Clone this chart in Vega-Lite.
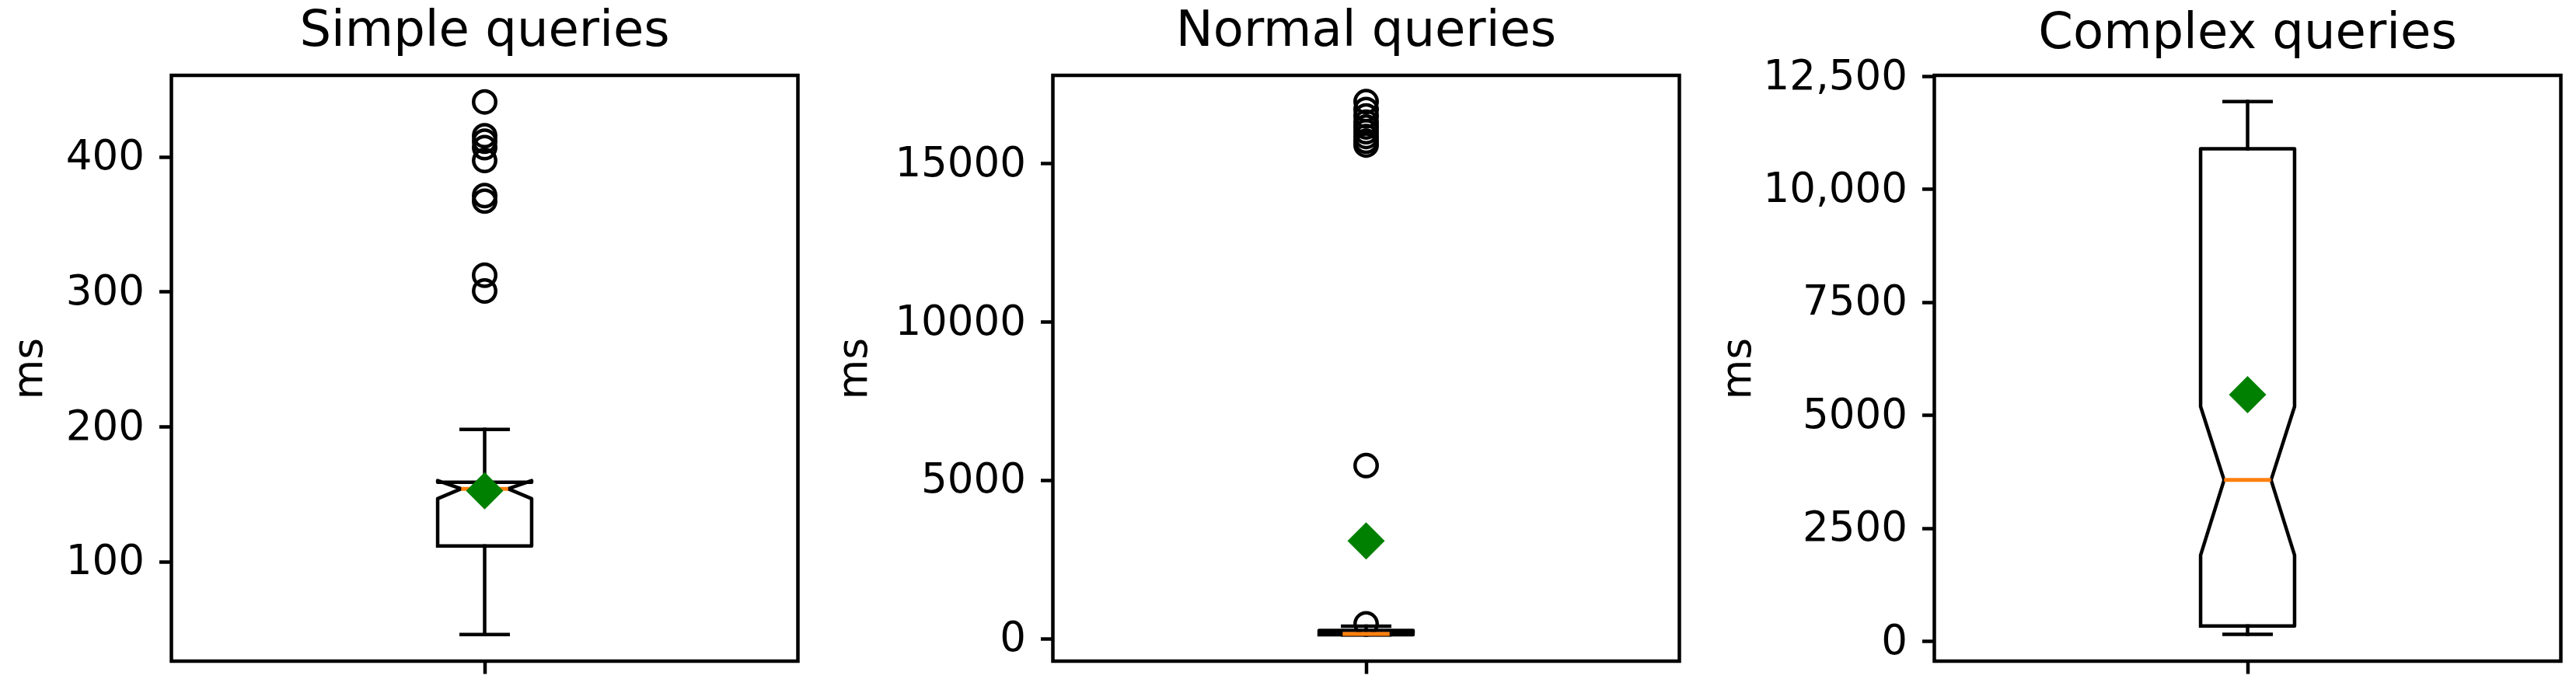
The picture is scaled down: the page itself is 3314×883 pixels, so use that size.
{
  "$schema": "https://vega.github.io/schema/vega-lite/v6.json",
  "background": "white",
  "padding": {"left": 8.5, "top": 5, "right": 0, "bottom": 0},
  "spacing": 328,
  "bounds": "flush",
  "datasets": {
    "stats": [
      {"panel": "Simple", "whislo": 45.9, "q1": 111.5, "med": 153.9, "q3": 158.7, "whishi": 197.9, "mean": 152.4},
      {"panel": "Normal", "whislo": 110, "q1": 118, "med": 145, "q3": 253, "whishi": 388, "mean": 3083},
      {"panel": "Complex", "whislo": 145, "q1": 329, "med": 3563, "q3": 10893, "whishi": 11939, "mean": 5451}
    ],
    "outline": [
      {"panel": "Simple", "i": 0, "vx": 0.925, "vy": 111.5},
      {"panel": "Simple", "i": 1, "vx": 1.075, "vy": 111.5},
      {"panel": "Simple", "i": 2, "vx": 1.075, "vy": 146.6},
      {"panel": "Simple", "i": 3, "vx": 1.0375, "vy": 153.9},
      {"panel": "Simple", "i": 4, "vx": 1.075, "vy": 160.0},
      {"panel": "Simple", "i": 5, "vx": 1.075, "vy": 158.7},
      {"panel": "Simple", "i": 6, "vx": 0.925, "vy": 158.7},
      {"panel": "Simple", "i": 7, "vx": 0.925, "vy": 160.0},
      {"panel": "Simple", "i": 8, "vx": 0.9625, "vy": 153.9},
      {"panel": "Simple", "i": 9, "vx": 0.925, "vy": 146.6},
      {"panel": "Simple", "i": 10, "vx": 0.925, "vy": 111.5},
      {"panel": "Normal", "i": 0, "vx": 0.925, "vy": 118},
      {"panel": "Normal", "i": 1, "vx": 1.075, "vy": 118},
      {"panel": "Normal", "i": 2, "vx": 1.075, "vy": 125},
      {"panel": "Normal", "i": 3, "vx": 1.0375, "vy": 145},
      {"panel": "Normal", "i": 4, "vx": 1.075, "vy": 165},
      {"panel": "Normal", "i": 5, "vx": 1.075, "vy": 253},
      {"panel": "Normal", "i": 6, "vx": 0.925, "vy": 253},
      {"panel": "Normal", "i": 7, "vx": 0.925, "vy": 165},
      {"panel": "Normal", "i": 8, "vx": 0.9625, "vy": 145},
      {"panel": "Normal", "i": 9, "vx": 0.925, "vy": 125},
      {"panel": "Normal", "i": 10, "vx": 0.925, "vy": 118},
      {"panel": "Complex", "i": 0, "vx": 0.925, "vy": 329},
      {"panel": "Complex", "i": 1, "vx": 1.075, "vy": 329},
      {"panel": "Complex", "i": 2, "vx": 1.075, "vy": 1898},
      {"panel": "Complex", "i": 3, "vx": 1.0375, "vy": 3563},
      {"panel": "Complex", "i": 4, "vx": 1.075, "vy": 5190},
      {"panel": "Complex", "i": 5, "vx": 1.075, "vy": 10893},
      {"panel": "Complex", "i": 6, "vx": 0.925, "vy": 10893},
      {"panel": "Complex", "i": 7, "vx": 0.925, "vy": 5190},
      {"panel": "Complex", "i": 8, "vx": 0.9625, "vy": 3563},
      {"panel": "Complex", "i": 9, "vx": 0.925, "vy": 1898},
      {"panel": "Complex", "i": 10, "vx": 0.925, "vy": 329}
    ],
    "fliers": [
      {"panel": "Simple", "value": 440.6},
      {"panel": "Simple", "value": 415.6},
      {"panel": "Simple", "value": 411.5},
      {"panel": "Simple", "value": 406.7},
      {"panel": "Simple", "value": 397.2},
      {"panel": "Simple", "value": 371.2},
      {"panel": "Simple", "value": 367.1},
      {"panel": "Simple", "value": 312.2},
      {"panel": "Simple", "value": 300.5},
      {"panel": "Normal", "value": 460},
      {"panel": "Normal", "value": 5458},
      {"panel": "Normal", "value": 15580},
      {"panel": "Normal", "value": 15700},
      {"panel": "Normal", "value": 15850},
      {"panel": "Normal", "value": 16000},
      {"panel": "Normal", "value": 16150},
      {"panel": "Normal", "value": 16300},
      {"panel": "Normal", "value": 16500},
      {"panel": "Normal", "value": 16700},
      {"panel": "Normal", "value": 16950}
    ]
  },
  "hconcat": [
    {
      "width": 806, "height": 754,
      "title": {"text": "Simple queries", "offset": 25},
      "layer": [
        {"data": {"name": "stats"}, "transform": [{"filter": "datum.panel === 'Simple'"}],
         "mark": {"type": "rule", "color": "black", "strokeWidth": 4.5, "strokeCap": "square"},
         "encoding": {
           "x": {"datum": 1, "type": "quantitative", "scale": {"domain": [0.5, 1.5]}, "axis": {"values": [1], "labels": false, "title": null}},
           "y": {"field": "q1", "type": "quantitative", "scale": {"domain": [26.2, 460.3], "zero": false, "nice": false}, "axis": {"title": "ms", "values": [100, 200, 300, 400], "format": "d", "titleX": -167}},
           "y2": {"field": "whislo"}}},
        {"data": {"name": "stats"}, "transform": [{"filter": "datum.panel === 'Simple'"}],
         "mark": {"type": "rule", "color": "black", "strokeWidth": 4.5, "strokeCap": "square"},
         "encoding": {
           "x": {"datum": 1, "type": "quantitative", "scale": {"domain": [0.5, 1.5]}, "axis": {"values": [1], "labels": false, "title": null}},
           "y": {"field": "q3", "type": "quantitative", "scale": {"domain": [26.2, 460.3], "zero": false, "nice": false}, "axis": {"title": "ms", "values": [100, 200, 300, 400], "format": "d", "titleX": -167}},
           "y2": {"field": "whishi"}}},
        {"data": {"name": "stats"}, "transform": [{"filter": "datum.panel === 'Simple'"}],
         "mark": {"type": "rule", "color": "black", "strokeWidth": 4.5, "strokeCap": "square"},
         "encoding": {
           "x": {"datum": 0.9625, "type": "quantitative", "scale": {"domain": [0.5, 1.5]}, "axis": {"values": [1], "labels": false, "title": null}},
           "x2": {"datum": 1.0375},
           "y": {"field": "whislo", "type": "quantitative", "scale": {"domain": [26.2, 460.3], "zero": false, "nice": false}, "axis": {"title": "ms", "values": [100, 200, 300, 400], "format": "d", "titleX": -167}}}},
        {"data": {"name": "stats"}, "transform": [{"filter": "datum.panel === 'Simple'"}],
         "mark": {"type": "rule", "color": "black", "strokeWidth": 4.5, "strokeCap": "square"},
         "encoding": {
           "x": {"datum": 0.9625, "type": "quantitative", "scale": {"domain": [0.5, 1.5]}, "axis": {"values": [1], "labels": false, "title": null}},
           "x2": {"datum": 1.0375},
           "y": {"field": "whishi", "type": "quantitative", "scale": {"domain": [26.2, 460.3], "zero": false, "nice": false}, "axis": {"title": "ms", "values": [100, 200, 300, 400], "format": "d", "titleX": -167}}}},
        {"data": {"name": "outline"}, "transform": [{"filter": "datum.panel === 'Simple'"}],
         "mark": {"type": "line", "color": "black", "strokeWidth": 4.5, "strokeJoin": "round", "strokeCap": "square"},
         "encoding": {
           "x": {"field": "vx", "type": "quantitative", "scale": {"domain": [0.5, 1.5]}, "axis": {"values": [1], "labels": false, "title": null}},
           "y": {"field": "vy", "type": "quantitative", "scale": {"domain": [26.2, 460.3], "zero": false, "nice": false}, "axis": {"title": "ms", "values": [100, 200, 300, 400], "format": "d", "titleX": -167}},
           "order": {"field": "i", "type": "quantitative"}}},
        {"data": {"name": "fliers"}, "transform": [{"filter": "datum.panel === 'Simple'"}],
         "mark": {"type": "point", "shape": "circle", "filled": false, "stroke": "black", "strokeWidth": 4.5, "size": 810, "opacity": 1},
         "encoding": {
           "x": {"datum": 1, "type": "quantitative", "scale": {"domain": [0.5, 1.5]}, "axis": {"values": [1], "labels": false, "title": null}},
           "y": {"field": "value", "type": "quantitative", "scale": {"domain": [26.2, 460.3], "zero": false, "nice": false}, "axis": {"title": "ms", "values": [100, 200, 300, 400], "format": "d", "titleX": -167}}}},
        {"data": {"name": "stats"}, "transform": [{"filter": "datum.panel === 'Simple'"}],
         "mark": {"type": "rule", "color": "#ff7f0e", "strokeWidth": 5},
         "encoding": {
           "x": {"datum": 0.9625, "type": "quantitative", "scale": {"domain": [0.5, 1.5]}, "axis": {"values": [1], "labels": false, "title": null}},
           "x2": {"datum": 1.0375},
           "y": {"field": "med", "type": "quantitative", "scale": {"domain": [26.2, 460.3], "zero": false, "nice": false}, "axis": {"title": "ms", "values": [100, 200, 300, 400], "format": "d", "titleX": -167}}}},
        {"data": {"name": "stats"}, "transform": [{"filter": "datum.panel === 'Simple'"}],
         "mark": {"type": "point", "shape": "diamond", "filled": true, "color": "#008000", "size": 2304, "opacity": 1, "strokeWidth": 0},
         "encoding": {
           "x": {"datum": 1, "type": "quantitative", "scale": {"domain": [0.5, 1.5]}, "axis": {"values": [1], "labels": false, "title": null}},
           "y": {"field": "mean", "type": "quantitative", "scale": {"domain": [26.2, 460.3], "zero": false, "nice": false}, "axis": {"title": "ms", "values": [100, 200, 300, 400], "format": "d", "titleX": -167}}}}
      ]
    },
    {
      "width": 806, "height": 754,
      "title": {"text": "Normal queries", "offset": 25},
      "layer": [
        {"data": {"name": "stats"}, "transform": [{"filter": "datum.panel === 'Normal'"}],
         "mark": {"type": "rule", "color": "black", "strokeWidth": 4.5, "strokeCap": "square"},
         "encoding": {
           "x": {"datum": 1, "type": "quantitative", "scale": {"domain": [0.5, 1.5]}, "axis": {"values": [1], "labels": false, "title": null}},
           "y": {"field": "q1", "type": "quantitative", "scale": {"domain": [-716, 17780], "zero": false, "nice": false}, "axis": {"title": "ms", "values": [0, 5000, 10000, 15000], "format": "d", "titleX": -240.5}},
           "y2": {"field": "whislo"}}},
        {"data": {"name": "stats"}, "transform": [{"filter": "datum.panel === 'Normal'"}],
         "mark": {"type": "rule", "color": "black", "strokeWidth": 4.5, "strokeCap": "square"},
         "encoding": {
           "x": {"datum": 1, "type": "quantitative", "scale": {"domain": [0.5, 1.5]}, "axis": {"values": [1], "labels": false, "title": null}},
           "y": {"field": "q3", "type": "quantitative", "scale": {"domain": [-716, 17780], "zero": false, "nice": false}, "axis": {"title": "ms", "values": [0, 5000, 10000, 15000], "format": "d", "titleX": -240.5}},
           "y2": {"field": "whishi"}}},
        {"data": {"name": "stats"}, "transform": [{"filter": "datum.panel === 'Normal'"}],
         "mark": {"type": "rule", "color": "black", "strokeWidth": 4.5, "strokeCap": "square"},
         "encoding": {
           "x": {"datum": 0.9625, "type": "quantitative", "scale": {"domain": [0.5, 1.5]}, "axis": {"values": [1], "labels": false, "title": null}},
           "x2": {"datum": 1.0375},
           "y": {"field": "whislo", "type": "quantitative", "scale": {"domain": [-716, 17780], "zero": false, "nice": false}, "axis": {"title": "ms", "values": [0, 5000, 10000, 15000], "format": "d", "titleX": -240.5}}}},
        {"data": {"name": "stats"}, "transform": [{"filter": "datum.panel === 'Normal'"}],
         "mark": {"type": "rule", "color": "black", "strokeWidth": 4.5, "strokeCap": "square"},
         "encoding": {
           "x": {"datum": 0.9625, "type": "quantitative", "scale": {"domain": [0.5, 1.5]}, "axis": {"values": [1], "labels": false, "title": null}},
           "x2": {"datum": 1.0375},
           "y": {"field": "whishi", "type": "quantitative", "scale": {"domain": [-716, 17780], "zero": false, "nice": false}, "axis": {"title": "ms", "values": [0, 5000, 10000, 15000], "format": "d", "titleX": -240.5}}}},
        {"data": {"name": "outline"}, "transform": [{"filter": "datum.panel === 'Normal'"}],
         "mark": {"type": "line", "color": "black", "strokeWidth": 4.5, "strokeJoin": "round", "strokeCap": "square"},
         "encoding": {
           "x": {"field": "vx", "type": "quantitative", "scale": {"domain": [0.5, 1.5]}, "axis": {"values": [1], "labels": false, "title": null}},
           "y": {"field": "vy", "type": "quantitative", "scale": {"domain": [-716, 17780], "zero": false, "nice": false}, "axis": {"title": "ms", "values": [0, 5000, 10000, 15000], "format": "d", "titleX": -240.5}},
           "order": {"field": "i", "type": "quantitative"}}},
        {"data": {"name": "fliers"}, "transform": [{"filter": "datum.panel === 'Normal'"}],
         "mark": {"type": "point", "shape": "circle", "filled": false, "stroke": "black", "strokeWidth": 4.5, "size": 810, "opacity": 1},
         "encoding": {
           "x": {"datum": 1, "type": "quantitative", "scale": {"domain": [0.5, 1.5]}, "axis": {"values": [1], "labels": false, "title": null}},
           "y": {"field": "value", "type": "quantitative", "scale": {"domain": [-716, 17780], "zero": false, "nice": false}, "axis": {"title": "ms", "values": [0, 5000, 10000, 15000], "format": "d", "titleX": -240.5}}}},
        {"data": {"name": "stats"}, "transform": [{"filter": "datum.panel === 'Normal'"}],
         "mark": {"type": "rule", "color": "#ff7f0e", "strokeWidth": 5},
         "encoding": {
           "x": {"datum": 0.9625, "type": "quantitative", "scale": {"domain": [0.5, 1.5]}, "axis": {"values": [1], "labels": false, "title": null}},
           "x2": {"datum": 1.0375},
           "y": {"field": "med", "type": "quantitative", "scale": {"domain": [-716, 17780], "zero": false, "nice": false}, "axis": {"title": "ms", "values": [0, 5000, 10000, 15000], "format": "d", "titleX": -240.5}}}},
        {"data": {"name": "stats"}, "transform": [{"filter": "datum.panel === 'Normal'"}],
         "mark": {"type": "point", "shape": "diamond", "filled": true, "color": "#008000", "size": 2304, "opacity": 1, "strokeWidth": 0},
         "encoding": {
           "x": {"datum": 1, "type": "quantitative", "scale": {"domain": [0.5, 1.5]}, "axis": {"values": [1], "labels": false, "title": null}},
           "y": {"field": "mean", "type": "quantitative", "scale": {"domain": [-716, 17780], "zero": false, "nice": false}, "axis": {"title": "ms", "values": [0, 5000, 10000, 15000], "format": "d", "titleX": -240.5}}}}
      ]
    },
    {
      "width": 806, "height": 754,
      "title": {"text": "Complex queries", "offset": -3},
      "layer": [
        {"data": {"name": "stats"}, "transform": [{"filter": "datum.panel === 'Complex'"}],
         "mark": {"type": "rule", "color": "black", "strokeWidth": 4.5, "strokeCap": "square"},
         "encoding": {
           "x": {"datum": 1, "type": "quantitative", "scale": {"domain": [0.5, 1.5]}, "axis": {"values": [1], "labels": false, "title": null}},
           "y": {"field": "q1", "type": "quantitative", "scale": {"domain": [-447, 12519], "zero": false, "nice": false}, "axis": {"title": "ms", "values": [0, 2500, 5000, 7500, 10000, 12500], "labelExpr": "datum.value >= 10000 ? format(datum.value, ',') : format(datum.value, 'd')", "titleX": -237.5}},
           "y2": {"field": "whislo"}}},
        {"data": {"name": "stats"}, "transform": [{"filter": "datum.panel === 'Complex'"}],
         "mark": {"type": "rule", "color": "black", "strokeWidth": 4.5, "strokeCap": "square"},
         "encoding": {
           "x": {"datum": 1, "type": "quantitative", "scale": {"domain": [0.5, 1.5]}, "axis": {"values": [1], "labels": false, "title": null}},
           "y": {"field": "q3", "type": "quantitative", "scale": {"domain": [-447, 12519], "zero": false, "nice": false}, "axis": {"title": "ms", "values": [0, 2500, 5000, 7500, 10000, 12500], "labelExpr": "datum.value >= 10000 ? format(datum.value, ',') : format(datum.value, 'd')", "titleX": -237.5}},
           "y2": {"field": "whishi"}}},
        {"data": {"name": "stats"}, "transform": [{"filter": "datum.panel === 'Complex'"}],
         "mark": {"type": "rule", "color": "black", "strokeWidth": 4.5, "strokeCap": "square"},
         "encoding": {
           "x": {"datum": 0.9625, "type": "quantitative", "scale": {"domain": [0.5, 1.5]}, "axis": {"values": [1], "labels": false, "title": null}},
           "x2": {"datum": 1.0375},
           "y": {"field": "whislo", "type": "quantitative", "scale": {"domain": [-447, 12519], "zero": false, "nice": false}, "axis": {"title": "ms", "values": [0, 2500, 5000, 7500, 10000, 12500], "labelExpr": "datum.value >= 10000 ? format(datum.value, ',') : format(datum.value, 'd')", "titleX": -237.5}}}},
        {"data": {"name": "stats"}, "transform": [{"filter": "datum.panel === 'Complex'"}],
         "mark": {"type": "rule", "color": "black", "strokeWidth": 4.5, "strokeCap": "square"},
         "encoding": {
           "x": {"datum": 0.9625, "type": "quantitative", "scale": {"domain": [0.5, 1.5]}, "axis": {"values": [1], "labels": false, "title": null}},
           "x2": {"datum": 1.0375},
           "y": {"field": "whishi", "type": "quantitative", "scale": {"domain": [-447, 12519], "zero": false, "nice": false}, "axis": {"title": "ms", "values": [0, 2500, 5000, 7500, 10000, 12500], "labelExpr": "datum.value >= 10000 ? format(datum.value, ',') : format(datum.value, 'd')", "titleX": -237.5}}}},
        {"data": {"name": "outline"}, "transform": [{"filter": "datum.panel === 'Complex'"}],
         "mark": {"type": "line", "color": "black", "strokeWidth": 4.5, "strokeJoin": "round", "strokeCap": "square"},
         "encoding": {
           "x": {"field": "vx", "type": "quantitative", "scale": {"domain": [0.5, 1.5]}, "axis": {"values": [1], "labels": false, "title": null}},
           "y": {"field": "vy", "type": "quantitative", "scale": {"domain": [-447, 12519], "zero": false, "nice": false}, "axis": {"title": "ms", "values": [0, 2500, 5000, 7500, 10000, 12500], "labelExpr": "datum.value >= 10000 ? format(datum.value, ',') : format(datum.value, 'd')", "titleX": -237.5}},
           "order": {"field": "i", "type": "quantitative"}}},
        {"data": {"name": "stats"}, "transform": [{"filter": "datum.panel === 'Complex'"}],
         "mark": {"type": "rule", "color": "#ff7f0e", "strokeWidth": 5},
         "encoding": {
           "x": {"datum": 0.9625, "type": "quantitative", "scale": {"domain": [0.5, 1.5]}, "axis": {"values": [1], "labels": false, "title": null}},
           "x2": {"datum": 1.0375},
           "y": {"field": "med", "type": "quantitative", "scale": {"domain": [-447, 12519], "zero": false, "nice": false}, "axis": {"title": "ms", "values": [0, 2500, 5000, 7500, 10000, 12500], "labelExpr": "datum.value >= 10000 ? format(datum.value, ',') : format(datum.value, 'd')", "titleX": -237.5}}}},
        {"data": {"name": "stats"}, "transform": [{"filter": "datum.panel === 'Complex'"}],
         "mark": {"type": "point", "shape": "diamond", "filled": true, "color": "#008000", "size": 2304, "opacity": 1, "strokeWidth": 0},
         "encoding": {
           "x": {"datum": 1, "type": "quantitative", "scale": {"domain": [0.5, 1.5]}, "axis": {"values": [1], "labels": false, "title": null}},
           "y": {"field": "mean", "type": "quantitative", "scale": {"domain": [-447, 12519], "zero": false, "nice": false}, "axis": {"title": "ms", "values": [0, 2500, 5000, 7500, 10000, 12500], "labelExpr": "datum.value >= 10000 ? format(datum.value, ',') : format(datum.value, 'd')", "titleX": -237.5}}}}
      ]
    }
  ],
  "config": {
    "font": "DejaVu Sans",
    "view": {"stroke": "black", "strokeWidth": 4.5},
    "axis": {"domain": false, "grid": false, "ticks": true, "tickColor": "black", "tickWidth": 4.5, "tickSize": 16, "labelFont": "DejaVu Sans", "labelFontSize": 53, "labelColor": "black", "labelPadding": 19, "labelFlush": false, "labelOverlap": false, "labelLimit": 0, "titleFont": "DejaVu Sans", "titleFontSize": 53, "titleFontWeight": "normal", "titleColor": "black"},
    "axisY": {"titleAngle": 270, "titleAlign": "center", "titleBaseline": "alphabetic", "titleY": 377},
    "title": {"font": "DejaVu Sans", "fontSize": 64, "fontWeight": "normal", "color": "black", "frame": "group", "anchor": "middle", "baseline": "alphabetic"}
  }
}
